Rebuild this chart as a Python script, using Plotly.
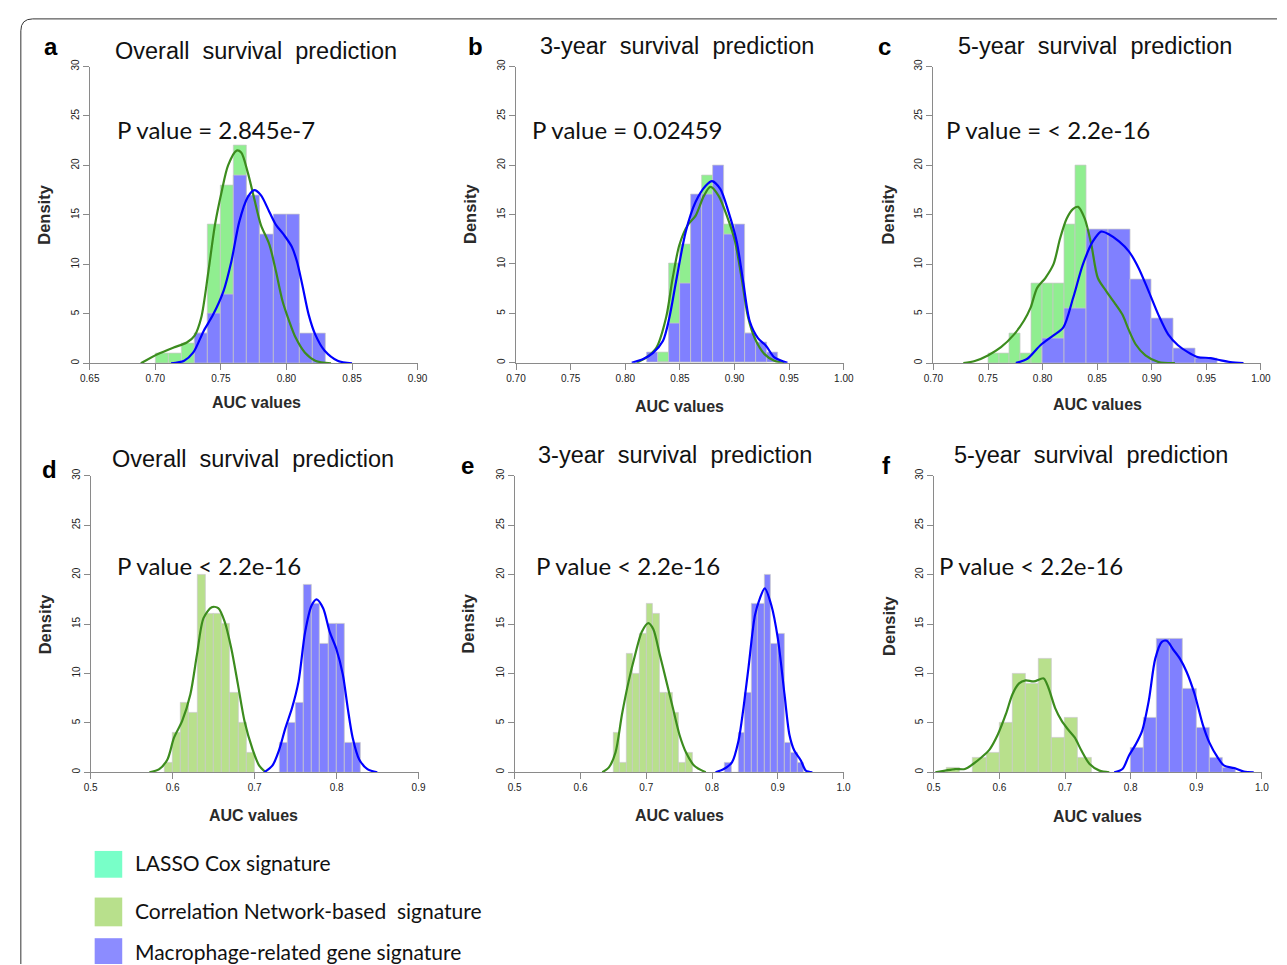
import plotly.graph_objects as go

W, H = 1287, 965

# ---------------- data ----------------
panel_letters = ["a", "b", "c", "d", "e", "f"]
panel_titles = ["Overall survival prediction", "3-year survival prediction", "5-year survival prediction",
                "Overall survival prediction", "3-year survival prediction", "5-year survival prediction"]
p_texts = ["P value = 2.845e-7", "P value = 0.02459", "P value = < 2.2e-16",
           "P value < 2.2e-16", "P value < 2.2e-16", "P value < 2.2e-16"]
legend_labels = ["LASSO Cox signature", "Correlation Network-based\u00a0 signature",
                 "Macrophage-related gene signature"]

x_ranges = [[0.65, 0.90], [0.70, 1.00], [0.70, 1.00], [0.5, 0.9], [0.5, 1.0], [0.5, 1.0]]
x_dticks = [0.05, 0.05, 0.05, 0.1, 0.1, 0.1]
y_ticks = [0, 5, 10, 15, 20, 25, 30]

# histogram densities: (first bin left edge, bin width, heights)
a_green_start, a_green_width = 0.70, 0.01
a_green = [1, 1, 2, 3, 14, 18, 22, 16, 10, 7, 4, 2]
a_blue_start, a_blue_width = 0.73, 0.01
a_blue = [3, 5, 7, 19, 17, 13, 15, 15, 3, 3]

b_green_start, b_green_width = 0.83, 0.01
b_green = [1, 10, 12, 15, 19, 17, 14, 8, 3, 1]
b_blue_start, b_blue_width = 0.82, 0.01
b_blue = [1, 0, 4, 8, 17, 17, 20, 13, 14, 3, 2, 1]

c_green_start, c_green_width = 0.75, 0.01
c_green = [1, 1, 3, 1, 8, 8, 8, 14, 20, 12, 8, 7, 5, 3, 1]
c_blue_start, c_blue_width = 0.80, 0.02
c_blue = [2.5, 5.5, 13.5, 13.5, 8.5, 4.5, 1.5, 0.5]

d_green_start, d_green_width = 0.59, 0.01
d_green = [1, 4, 7, 6, 20, 16, 16, 15, 8, 5, 2]
d_blue_start, d_blue_width = 0.73, 0.01
d_blue = [3, 5, 7, 19, 17, 13, 15, 15, 3, 3]

e_green_start, e_green_width = 0.65, 0.01
e_green = [4, 1, 12, 10, 14, 17, 16, 8, 8, 6, 1, 2]
e_blue_start, e_blue_width = 0.82, 0.01
e_blue = [1, 0, 4, 8, 17, 17, 20, 13, 14, 3, 2, 1]

f_green_start, f_green_width = 0.52, 0.02
f_green = [0.5, 0, 1.5, 2, 5, 10, 9, 11.5, 3.5, 5.5, 1.5]
f_blue_start, f_blue_width = 0.80, 0.02
f_blue = [2.5, 5.5, 13.5, 13.5, 8.5, 4.5, 1.5, 0.5]

# density curves
a_gc_x = [0.689, 0.702, 0.714, 0.724, 0.730, 0.735, 0.7405, 0.7455, 0.7505, 0.7555, 0.762, 0.7655, 0.7705,
          0.7755, 0.7805, 0.787, 0.792, 0.797, 0.802, 0.807, 0.814, 0.822, 0.834]
a_gc_y = [0, 0.94, 1.6, 2.1, 2.8, 4.6, 9.3, 14.0, 17.3, 20.0, 21.5, 21.3, 19.3,
          16.6, 14.0, 12.0, 9.3, 6.3, 4.3, 2.6, 1.1, 0.27, 0]
a_bc_x = [0.712, 0.722, 0.729, 0.737, 0.744, 0.752, 0.758, 0.764, 0.7705, 0.7755, 0.7805, 0.787, 0.792,
          0.798, 0.804, 0.808, 0.812, 0.817, 0.822, 0.829, 0.839, 0.850]
a_bc_y = [0, 0.27, 1.1, 3.3, 4.9, 7.3, 10.3, 14.3, 16.8, 17.5, 17.0, 15.3, 14.0,
          13.0, 11.8, 10.3, 8.0, 4.9, 2.9, 1.3, 0.27, 0]

b_gc_x = [0.8104, 0.8194, 0.8284, 0.8374, 0.8434, 0.8494, 0.8569, 0.8644, 0.8719, 0.8779, 0.8854, 0.8929,
          0.9004, 0.9064, 0.9124, 0.9184, 0.9274, 0.9364, 0.9454]
b_gc_y = [0, 0.54, 1.5, 4.6, 8.6, 11.9, 13.9, 14.9, 16.9, 17.8, 16.9, 14.9,
          12.3, 8.6, 4.6, 2.5, 0.87, 0.2, 0]
b_bc_x = [0.8059, 0.8164, 0.8254, 0.8344, 0.8404, 0.8464, 0.8554, 0.8644, 0.8734, 0.8794, 0.8869, 0.8944,
          0.9019, 0.9079, 0.9139, 0.9214, 0.9289, 0.9364, 0.9484]
b_bc_y = [0, 0.37, 1.0, 2.2, 4.6, 8.2, 13.3, 16.3, 17.9, 18.4, 17.6, 15.3,
          12.3, 8.2, 4.2, 2.5, 1.7, 0.54, 0]

c_gc_x = [0.7274, 0.7379, 0.7499, 0.7619, 0.7739, 0.783, 0.789, 0.795, 0.8025, 0.810, 0.816, 0.822, 0.828,
          0.8326, 0.8386, 0.8446, 0.8506, 0.8581, 0.8671, 0.8731, 0.8791, 0.8852, 0.8942, 0.9062, 0.9212]
c_gc_y = [0, 0.2, 0.77, 1.6, 2.9, 4.3, 5.6, 7.6, 8.6, 10.0, 12.6, 14.6, 15.6,
          15.8, 14.6, 12.0, 8.6, 7.3, 5.9, 4.9, 3.3, 1.9, 0.77, 0.1, 0]
c_bc_x = [0.7755, 0.786, 0.798, 0.810, 0.819, 0.828, 0.837, 0.846, 0.8536, 0.861, 0.870, 0.879, 0.888,
          0.897, 0.906, 0.915, 0.924, 0.933, 0.942, 0.954, 0.9633, 0.972, 0.984]
c_bc_y = [0, 0.43, 1.8, 2.8, 3.6, 6.6, 10.0, 12.3, 13.3, 13.0, 12.3, 11.3, 9.6,
          7.3, 4.9, 2.9, 1.8, 1.1, 0.6, 0.5, 0.27, 0.1, 0]

d_gc_x = [0.5716, 0.5836, 0.5936, 0.6016, 0.6116, 0.6216, 0.6296, 0.6376, 0.6476, 0.6556, 0.6636, 0.6716,
          0.6796, 0.6876, 0.6976, 0.7056, 0.7136]
d_gc_y = [0, 0.33, 1.3, 3.5, 5.2, 7.9, 11.9, 15.6, 16.7, 16.6, 15.2, 12.5,
          8.9, 5.2, 2.3, 0.67, 0]
d_bc_x = [0.7116, 0.7216, 0.7296, 0.7376, 0.7456, 0.7536, 0.7616, 0.7696, 0.7756, 0.7836, 0.7916, 0.7996,
          0.8076, 0.8136, 0.8196, 0.8276, 0.8376, 0.8496]
d_bc_y = [0, 0.67, 2.2, 4.5, 6.5, 9.2, 14.2, 16.9, 17.5, 16.6, 14.2, 12.5,
          9.9, 6.5, 3.5, 1.3, 0.33, 0]

e_gc_x = [0.6332, 0.6432, 0.6532, 0.6632, 0.6732, 0.6831, 0.6931, 0.7031, 0.7106, 0.7206, 0.7306, 0.7405,
          0.7505, 0.7605, 0.773, 0.7904]
e_gc_y = [0, 0.5, 2.0, 5.9, 9.2, 11.9, 14.2, 15.1, 14.5, 11.9, 9.2, 6.5,
          3.8, 2.0, 0.67, 0]
e_bc_x = [0.8054, 0.8179, 0.8303, 0.8403, 0.8478, 0.8553, 0.8653, 0.8728, 0.8802, 0.8902, 0.9002, 0.9102,
          0.9177, 0.9251, 0.9351, 0.9426, 0.9526]
e_bc_y = [0, 0.33, 1.0, 3.2, 6.5, 10.5, 15.9, 17.6, 18.6, 16.9, 13.5, 7.9,
          3.8, 2.2, 1.2, 0.17, 0]

f_gc_x = [0.5025, 0.5175, 0.5325, 0.5475, 0.5600, 0.5725, 0.5850, 0.5975, 0.6100, 0.6200, 0.6300, 0.6400,
          0.6525, 0.6675, 0.6750, 0.6850, 0.6950, 0.7050, 0.7150, 0.7250, 0.7375, 0.7525, 0.7675]
f_gc_y = [0, 0.17, 0.33, 0.33, 0.84, 1.5, 2.3, 3.8, 5.9, 7.9, 9.0, 9.3,
          9.2, 9.5, 8.5, 6.5, 5.2, 4.3, 3.5, 2.2, 0.84, 0.17, 0]
f_bc_x = [0.775, 0.7875, 0.7975, 0.8075, 0.8175, 0.8275, 0.8375, 0.8475, 0.855, 0.865, 0.875, 0.885,
          0.8975, 0.910, 0.920, 0.9325, 0.9425, 0.9575, 0.9725, 0.9875]
f_bc_y = [0, 0.33, 1.7, 2.8, 4.2, 7.2, 11.5, 13.2, 13.3, 12.4, 11.5, 10.2,
          7.9, 4.8, 3.0, 1.5, 0.67, 0.43, 0.07, 0]

green_hists = [(a_green_start, a_green_width, a_green), (b_green_start, b_green_width, b_green),
               (c_green_start, c_green_width, c_green), (d_green_start, d_green_width, d_green),
               (e_green_start, e_green_width, e_green), (f_green_start, f_green_width, f_green)]
blue_hists = [(a_blue_start, a_blue_width, a_blue), (b_blue_start, b_blue_width, b_blue),
              (c_blue_start, c_blue_width, c_blue), (d_blue_start, d_blue_width, d_blue),
              (e_blue_start, e_blue_width, e_blue), (f_blue_start, f_blue_width, f_blue)]
green_curves = [(a_gc_x, a_gc_y), (b_gc_x, b_gc_y), (c_gc_x, c_gc_y), (d_gc_x, d_gc_y),
                (e_gc_x, e_gc_y), (f_gc_x, f_gc_y)]
blue_curves = [(a_bc_x, a_bc_y), (b_bc_x, b_bc_y), (c_bc_x, c_bc_y), (d_bc_x, d_bc_y),
               (e_bc_x, e_bc_y), (f_bc_x, f_bc_y)]

# ---------------- styling / layout (window pixel coordinates) ----------------
boxes = [(81, 414, 60, 359.3), (514, 847, 60, 358.7), (938, 1270.7, 60, 359),
         (82, 415, 472.7, 771.7), (512.7, 846.7, 472.7, 771.7), (938.3, 1271.7, 472.7, 771.7)]
green_colors = ["#90EE90", "#90EE90", "#90EE90", "#B8E08C", "#B8E08C", "#B8E08C"]
blue_bar = "#8080FF"
green_line = "#3C8C1E"
blue_line = "#0000FF"
letter_pos = [(42, 40), (473, 40), (888, 40), (40, 466), (465, 462), (890, 462)]
title_pos = [(250, 44), (678, 39), (1102, 39), (247, 456), (675, 452), (1098, 452)]
p_pos = [(107, 124), (528, 124), (949, 124), (107, 563), (532, 563), (942, 563)]
dens_pos = [(35, 209), (468, 209), (892, 209), (35, 622), (465, 622), (893, 624)]
auc_pos = [(250, 399), (680, 403), (1105, 401), (247, 815), (680, 815), (1105, 816)]

SANS = "Liberation Sans, Arial, sans-serif"
CAL = "Lato, Open Sans, sans-serif"


def PX(x):
    return x / W


def PY(y):
    return 1 - y / H


fig = go.Figure()
layout = dict(width=W, height=H, margin=dict(l=0, r=0, t=0, b=0),
              paper_bgcolor="white", plot_bgcolor="white", showlegend=False,
              barmode="overlay", bargap=0)

for i in range(6):
    xa = "x" if i == 0 else f"x{i+1}"
    ya = "y" if i == 0 else f"y{i+1}"
    s, w, h = green_hists[i]
    fig.add_trace(go.Bar(x=[s + w * (k + 0.5) for k in range(len(h))], y=h, width=w,
                         marker=dict(color=green_colors[i], line=dict(color="rgba(200,200,200,0.9)", width=0.8)),
                         xaxis=xa, yaxis=ya, hoverinfo="skip"))
    s, w, h = blue_hists[i]
    fig.add_trace(go.Bar(x=[s + w * (k + 0.5) for k in range(len(h))], y=h, width=w,
                         marker=dict(color=blue_bar, line=dict(color="rgba(200,200,200,0.9)", width=0.8)),
                         xaxis=xa, yaxis=ya, hoverinfo="skip"))
    gx, gy = green_curves[i]
    fig.add_trace(go.Scatter(x=gx, y=gy, mode="lines", line=dict(color=green_line, width=2.2, shape="spline", smoothing=0.8),
                             xaxis=xa, yaxis=ya, hoverinfo="skip"))
    bx, by = blue_curves[i]
    fig.add_trace(go.Scatter(x=bx, y=by, mode="lines", line=dict(color=blue_line, width=2.2, shape="spline", smoothing=0.8),
                             xaxis=xa, yaxis=ya, hoverinfo="skip"))

    x0, x1, yt, yb = boxes[i]
    key = "" if i == 0 else str(i + 1)
    fmt = ".2f" if x_dticks[i] < 0.1 else ".1f"
    layout["xaxis" + key] = dict(domain=[PX(x0), PX(x1)], range=x_ranges[i], anchor=ya,
                                 tick0=x_ranges[i][0], dtick=x_dticks[i], tickformat=fmt,
                                 showgrid=False, zeroline=False, showline=True, linecolor="#8a8a8a", linewidth=1,
                                 ticks="outside", ticklen=6, tickcolor="#8a8a8a",
                                 tickfont=dict(family=SANS, size=10, color="#222"))
    layout["yaxis" + key] = dict(domain=[PY(yb), PY(yt)], range=[0, 30], anchor=xa,
                                 tickvals=y_ticks, tickangle=-90,
                                 showgrid=False, zeroline=False, showline=True, linecolor="#8a8a8a", linewidth=1,
                                 ticks="outside", ticklen=6, tickcolor="#8a8a8a",
                                 tickfont=dict(family=SANS, size=10, color="#222"))

ann = []
for i in range(6):
    ann.append(dict(x=PX(letter_pos[i][0]), y=PY(letter_pos[i][1]), xref="paper", yref="paper",
                    text=f"<b>{panel_letters[i]}</b>", showarrow=False,
                    xanchor="center", yanchor="middle", font=dict(family=SANS, size=24, color="#000")))
    ann.append(dict(x=PX(title_pos[i][0]), y=PY(title_pos[i][1]), xref="paper", yref="paper",
                    text=panel_titles[i].replace(" ", " \u00a0"),
                    showarrow=False, xanchor="center", yanchor="middle", font=dict(family=SANS, size=23.5, color="#111")))
    ann.append(dict(x=PX(p_pos[i][0]), y=PY(p_pos[i][1]), xref="paper", yref="paper", text=p_texts[i], showarrow=False,
                    xanchor="left", yanchor="middle", font=dict(family=CAL, size=24, color="#111")))
    ann.append(dict(x=PX(dens_pos[i][0]), y=PY(dens_pos[i][1]), xref="paper", yref="paper",
                    text="<b>Density</b>", showarrow=False, textangle=-90,
                    xanchor="center", yanchor="middle", font=dict(family=SANS, size=16.5, color="#2a2a2a")))
    ann.append(dict(x=PX(auc_pos[i][0]), y=PY(auc_pos[i][1]), xref="paper", yref="paper",
                    text="<b>AUC values</b>", showarrow=False,
                    xanchor="center", yanchor="middle", font=dict(family=SANS, size=16, color="#2a2a2a")))

legend_colors = ["#78FFC8", "#B8E08C", "#8C8CFF"]
legend_boxes = [(851, 878), (898, 927), (939, 965)]
legend_text_y = [863, 911, 952]
shapes = []
for j in range(3):
    y0, y1 = legend_boxes[j]
    shapes.append(dict(type="rect", xref="paper", yref="paper", x0=PX(86), x1=PX(114),
                       y0=PY(y1), y1=PY(y0), fillcolor=legend_colors[j], line=dict(width=0)))
    ann.append(dict(x=PX(125), y=PY(legend_text_y[j]), xref="paper", yref="paper", text=legend_labels[j],
                    showarrow=False, xanchor="left", yanchor="middle", font=dict(family=CAL, size=21, color="#111")))

# outer rounded frame (kept inside the page)
shapes.append(dict(type="path", xref="paper", yref="paper",
                   path=f"M {PX(11)},{PY(965)} L {PX(11)},{PY(24)} Q {PX(11)},{PY(12)} {PX(23)},{PY(12)} L {PX(1287)},{PY(12)}",
                   line=dict(color="#333", width=1)))

layout["annotations"] = ann
layout["shapes"] = shapes
fig.update_layout(**layout)
fig.write_html("out.html")
